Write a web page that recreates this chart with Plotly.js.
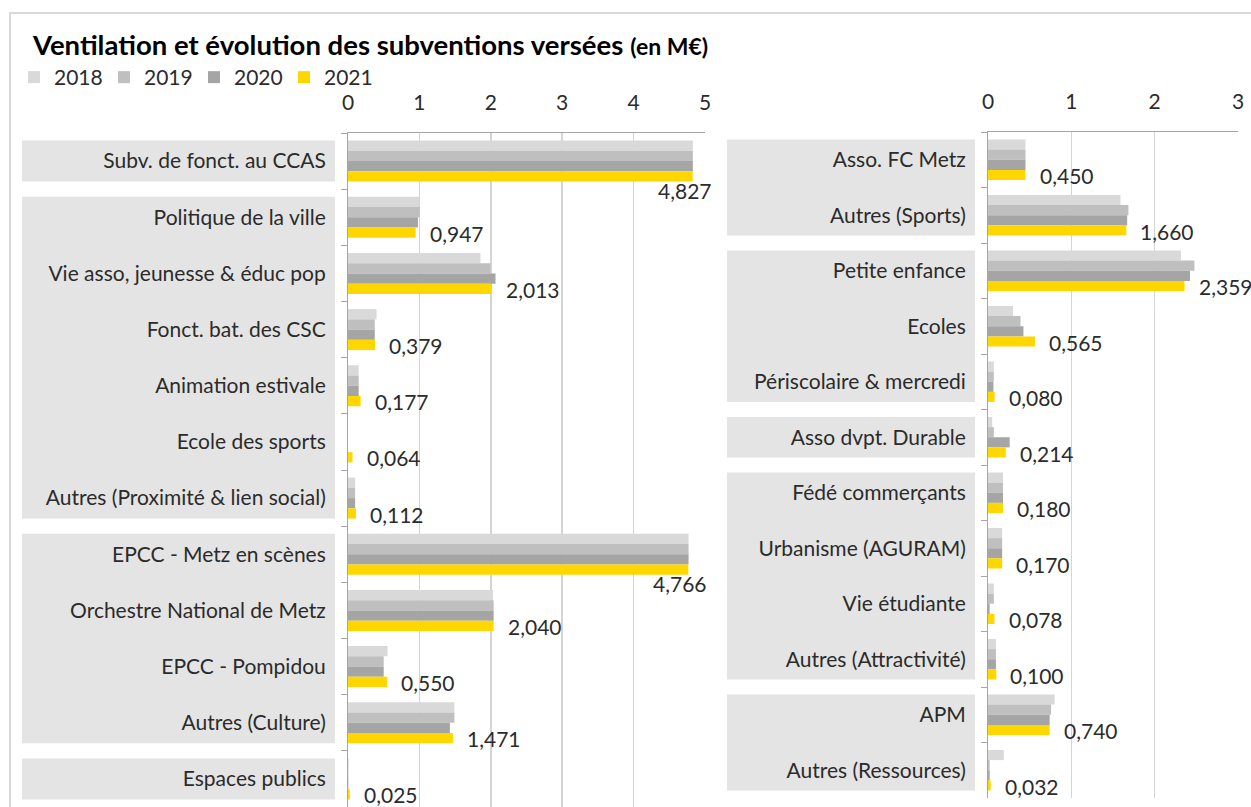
<!DOCTYPE html>
<html>
<head>
<meta charset="utf-8">
<script src="https://cdn.plot.ly/plotly-3.0.1.min.js"></script>
<style>
html,body{margin:0;padding:0;background:#fff;}
#chart{width:1251px;height:807px;}
</style>
</head>
<body>
<div id="chart"></div>
<script>
// ---------- DATA ----------
const years = ["2018", "2019", "2020", "2021"];

const categoriesLeft = [
  "Subv. de fonct. au CCAS",
  "Politique de la ville",
  "Vie asso, jeunesse & éduc pop",
  "Fonct. bat. des CSC",
  "Animation estivale",
  "Ecole des sports",
  "Autres (Proximité & lien social)",
  "EPCC - Metz en scènes",
  "Orchestre National de Metz",
  "EPCC - Pompidou",
  "Autres (Culture)",
  "Espaces publics"
];
const left2018 = [4.83, 0.995, 1.855, 0.40, 0.15, 0, 0.10, 4.77, 2.03, 0.554, 1.49, 0.01];
const left2019 = [4.83, 1.005, 1.995, 0.375, 0.15, 0, 0.10, 4.77, 2.04, 0.50, 1.49, 0.005];
const left2020 = [4.83, 0.98, 2.066, 0.375, 0.15, 0, 0.10, 4.77, 2.04, 0.50, 1.427, 0.005];
const left2021 = [4.827, 0.947, 2.013, 0.379, 0.177, 0.064, 0.112, 4.766, 2.040, 0.550, 1.471, 0.025];
const leftGroups = [1, 2, 2, 2, 2, 2, 2, 3, 3, 3, 3, 4];

const categoriesRight = [
  "Asso. FC Metz",
  "Autres (Sports)",
  "Petite enfance",
  "Ecoles",
  "Périscolaire & mercredi",
  "Asso dvpt. Durable",
  "Fédé commerçants",
  "Urbanisme (AGURAM)",
  "Vie étudiante",
  "Autres (Attractivité)",
  "APM",
  "Autres (Ressources)"
];
const right2018 = [0.45, 1.59, 2.315, 0.30, 0.07, 0.05, 0.18, 0.17, 0.07, 0.095, 0.80, 0.19];
const right2019 = [0.45, 1.685, 2.477, 0.39, 0.07, 0.07, 0.18, 0.17, 0.07, 0.095, 0.757, 0.02];
const right2020 = [0.45, 1.67, 2.424, 0.425, 0.065, 0.26, 0.18, 0.17, 0.02, 0.095, 0.74, 0.02];
const right2021 = [0.450, 1.660, 2.359, 0.565, 0.080, 0.214, 0.180, 0.170, 0.078, 0.100, 0.740, 0.032];
const rightGroups = [1, 1, 2, 2, 2, 3, 4, 4, 4, 4, 5, 5];

const xTicksLeft = [0, 1, 2, 3, 4, 5];
const xTicksRight = [0, 1, 2, 3];

// ---------- STYLE ----------
const colors = ["#d9d9d9", "#bfbfbf", "#a5a5a5", "#ffd700"];
const FONT = "Lato, 'Open Sans', sans-serif";
const TXT = "#2b2b2b";
const W = 1251, H = 807;
const FS = 21;

const leftSeries = [left2018, left2019, left2020, left2021];
const rightSeries = [right2018, right2019, right2020, right2021];

const traces = [];
years.forEach((yr, i) => {
  traces.push({
    type: "bar", orientation: "h", name: yr, legendgroup: yr,
    x: leftSeries[i], y: categoriesLeft, xaxis: "x", yaxis: "y",
    marker: {color: colors[i], line: {width: 0}},
    hoverinfo: "x+y+name"
  });
});
years.forEach((yr, i) => {
  traces.push({
    type: "bar", orientation: "h", name: yr, legendgroup: yr, showlegend: false,
    x: rightSeries[i], y: categoriesRight, xaxis: "x2", yaxis: "y2",
    marker: {color: colors[i], line: {width: 0}},
    hoverinfo: "x+y+name"
  });
});

const fmt = v => v.toFixed(3).replace(".", ",");

function labelAnnotations(cats, vals, xref, yref, xmax) {
  return cats.map((c, i) => {
    const v = vals[i];
    const nearEnd = v > 0.9 * xmax;
    return {
      x: v, y: c, xref: xref, yref: yref,
      text: fmt(v), showarrow: false,
      xanchor: nearEnd ? "right" : "left",
      xshift: nearEnd ? 21 : 12,
      yshift: nearEnd ? -29 : -16,
      font: {family: FONT, size: FS, color: TXT}
    };
  });
}

function groupShapes(groups, yref, x0, x1) {
  const shapes = [];
  let start = 0;
  for (let i = 1; i <= groups.length; i++) {
    if (i === groups.length || groups[i] !== groups[start]) {
      shapes.push({
        type: "rect", layer: "below", xref: "paper", yref: yref,
        x0: x0, x1: x1, y0: start - 0.365, y1: (i - 1) + 0.365,
        fillcolor: "#e4e4e4", line: {width: 0}
      });
      start = i;
    }
  }
  return shapes;
}

const yAxisCommon = {
  type: "category", range: [11.5, -0.5],
  showgrid: false, zeroline: false,
  showline: true, linecolor: "#a6a6a6", linewidth: 1,
  ticks: "outside", ticklen: 6, tickcolor: "#a6a6a6", tickwidth: 1,
  tickson: "boundaries", ticklabelstandoff: 17,
  tickfont: {family: FONT, size: FS, color: TXT},
  fixedrange: true
};
const xAxisCommon = {
  side: "top", showgrid: true, gridcolor: "#d4d4d4", gridwidth: 1.5,
  zeroline: false, showline: true, linecolor: "#a6a6a6", linewidth: 1,
  ticks: "", ticklabelstandoff: 14,
  tickfont: {family: FONT, size: FS, color: TXT},
  fixedrange: true
};

const layout = {
  width: W, height: H,
  margin: {l: 0, r: 0, t: 0, b: 0},
  paper_bgcolor: "#fff", plot_bgcolor: "rgba(0,0,0,0)",
  font: {family: FONT, color: TXT},
  separators: ", ",
  title: {
    text: "<b>Ventilation et évolution des subventions versées</b> <b><span style='font-size:23px'>(en M€)</span></b>",
    x: 33 / W, xanchor: "left", xref: "paper",
    y: 1 - 45 / H, yanchor: "middle", yref: "paper",
    font: {family: FONT, size: 27.5, color: "#000"}
  },
  showlegend: true,
  legend: {
    orientation: "h", x: 14 / W, xanchor: "left", y: 1 - 57 / H, yanchor: "top",
    font: {family: FONT, size: FS, color: TXT}, itemwidth: 30,
    entrywidth: 45, entrywidthmode: "pixels",
    bgcolor: "rgba(0,0,0,0)", traceorder: "normal", tracegroupgap: 0
  },
  barmode: "group", bargap: 0.27, bargroupgap: 0,
  xaxis: Object.assign({}, xAxisCommon, {
    domain: [348 / W, 705 / W], range: [0, 5], anchor: "y",
    tickvals: xTicksLeft, ticktext: xTicksLeft.map(String)
  }),
  yaxis: Object.assign({}, yAxisCommon, {
    domain: [0, 1 - 133 / H], anchor: "x"
  }),
  xaxis2: Object.assign({}, xAxisCommon, {
    domain: [988 / W, 1238 / W], range: [0, 3], anchor: "y2",
    tickvals: xTicksRight, ticktext: xTicksRight.map(String)
  }),
  yaxis2: Object.assign({}, yAxisCommon, {
    domain: [1 - 798 / H, 1 - 132 / H], anchor: "x2"
  }),
  shapes: [
    {type: "rect", xref: "paper", yref: "paper", layer: "below",
     x0: 10 / W, x1: 1.02, y0: -0.02, y1: 1 - 13 / H,
     line: {color: "#d9d9d9", width: 2}, fillcolor: "rgba(0,0,0,0)"}
  ].concat(groupShapes(leftGroups, "y", 22 / W, 335 / W))
   .concat(groupShapes(rightGroups, "y2", 727 / W, 975 / W)),
  annotations: labelAnnotations(categoriesLeft, left2021, "x", "y", 5)
    .concat(labelAnnotations(categoriesRight, right2021, "x2", "y2", 3))
};

Plotly.newPlot("chart", traces, layout, {displayModeBar: false, staticPlot: true});
</script>
</body>
</html>
